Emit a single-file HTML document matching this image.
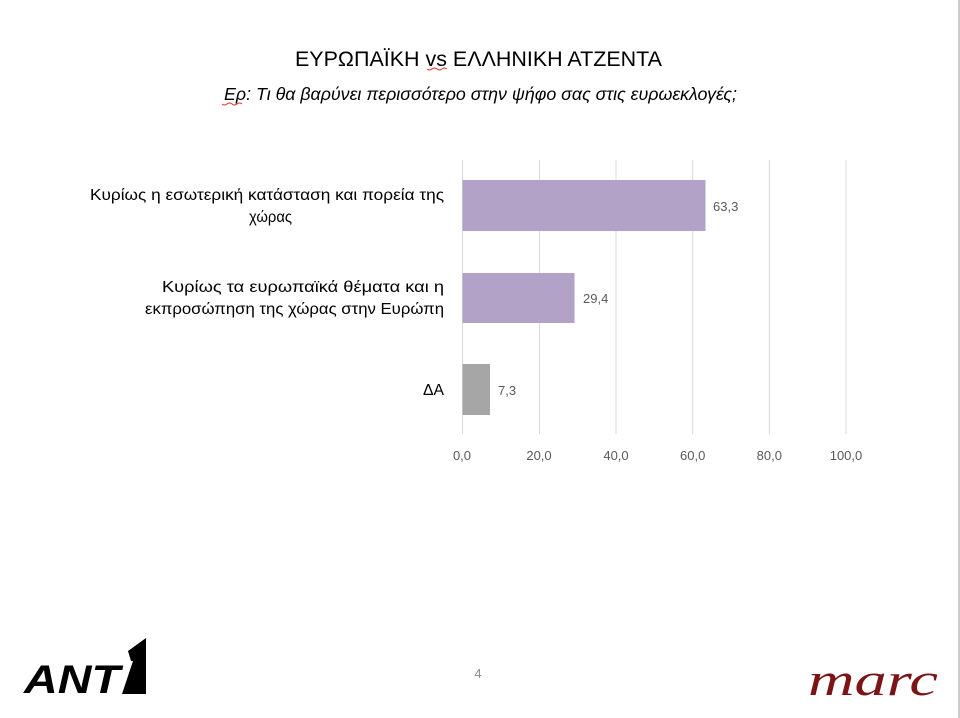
<!DOCTYPE html>
<html><head><meta charset="utf-8"><style>
body{margin:0;background:#fff}
#c{position:relative;width:960px;height:718px;overflow:hidden;font-family:"Liberation Sans",sans-serif;border-right:2px solid #ccc;box-sizing:border-box}
</style></head><body><div id="c">
<svg width="960" height="718" style="position:absolute;left:0;top:0" font-family="Liberation Sans, sans-serif">
<g stroke="#d9d9d9" stroke-width="1">
<line x1="462.5" y1="160" x2="462.5" y2="434"/>
<line x1="539.5" y1="160" x2="539.5" y2="434"/>
<line x1="616" y1="160" x2="616" y2="434"/>
<line x1="692.7" y1="160" x2="692.7" y2="434"/>
<line x1="769.3" y1="160" x2="769.3" y2="434"/>
<line x1="846" y1="160" x2="846" y2="434"/>
</g>
<rect x="462.5" y="180" width="243" height="51" fill="#b3a2c8"/>
<rect x="462.5" y="273" width="112" height="50" fill="#b3a2c8"/>
<rect x="462.5" y="364" width="27.5" height="51" fill="#a6a6a6"/>
<g font-size="13" fill="#595959">
<text x="713" y="211">63,3</text>
<text x="583" y="303">29,4</text>
<text x="498" y="395">7,3</text>
<g text-anchor="middle">
<text x="462" y="460">0,0</text><text x="539" y="460">20,0</text><text x="616" y="460">40,0</text>
<text x="692.7" y="460">60,0</text><text x="769.3" y="460">80,0</text><text x="846" y="460">100,0</text>
</g></g>
<g font-size="16" fill="#000">
<text x="90" y="200" textLength="354" lengthAdjust="spacingAndGlyphs">Κυρίως η εσωτερική κατάσταση και πορεία της</text>
<text x="249" y="222" textLength="43" lengthAdjust="spacingAndGlyphs">χώρας</text>
<text x="162" y="292" textLength="282" lengthAdjust="spacingAndGlyphs">Κυρίως τα ευρωπαϊκά θέματα και η</text>
<text x="145" y="314" textLength="299" lengthAdjust="spacingAndGlyphs">εκπροσώπηση της χώρας στην Ευρώπη</text>
<text x="423" y="395" textLength="21" lengthAdjust="spacingAndGlyphs">ΔΑ</text>
</g>
<text x="295" y="66" font-size="21" fill="#000" textLength="367" lengthAdjust="spacingAndGlyphs">ΕΥΡΩΠΑΪΚΗ vs ΕΛΛΗΝΙΚΗ ΑΤΖΕΝΤΑ</text>
<text x="224" y="100" font-size="18" font-style="italic" fill="#000" textLength="513" lengthAdjust="spacingAndGlyphs">Ερ: Τι θα βαρύνει περισσότερο στην ψήφο σας στις ευρωεκλογές;</text>
<path d="M427 69q2.5 2 5 0t5 0t5 0t5 0" stroke="#e03030" fill="none" stroke-width="1"/>
<path d="M222 104q2.5 2 5 0t5 0t5 0t5 0" stroke="#e03030" fill="none" stroke-width="1"/>
<text x="478" y="678" font-size="13" fill="#8c8c8c" text-anchor="middle">4</text>
<polygon points="128,651 146,638 146,694 122,694 133,661 131,661" fill="#000"/>
<text x="24" y="693" font-size="40" font-weight="bold" font-style="italic" fill="#000" textLength="96" lengthAdjust="spacingAndGlyphs">ANT</text>
<text x="808" y="695" font-size="46" font-style="italic" font-family="Liberation Serif, serif" fill="#7a1416" textLength="130" lengthAdjust="spacingAndGlyphs">marc</text>
</svg>
</div></body></html>
